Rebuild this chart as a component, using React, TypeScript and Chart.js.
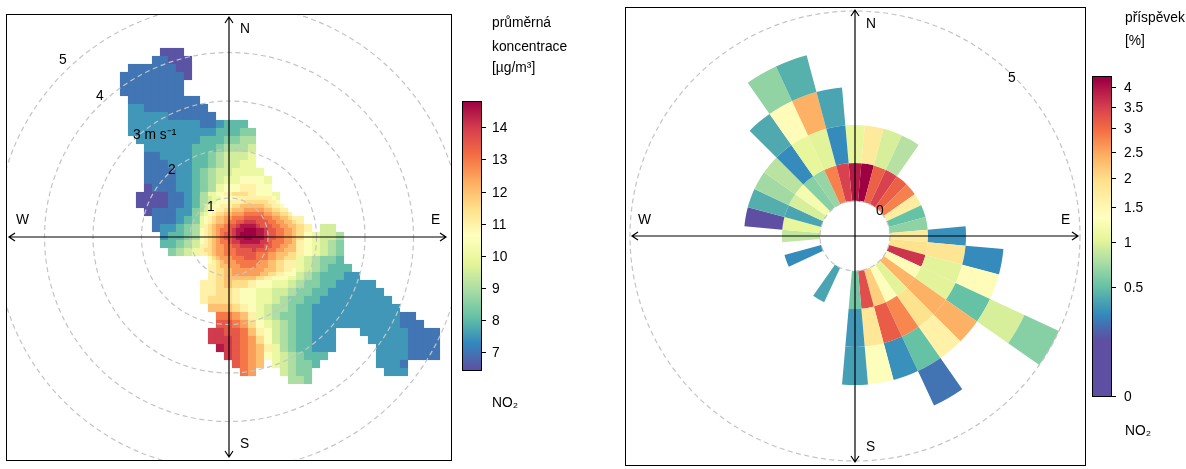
import React, { useEffect, useRef } from "react";
import { Chart, registerables } from "chart.js";

Chart.register(...registerables);

const FONT = '13.8px "Liberation Sans", Arial, sans-serif';

// ---- left panel: mean concentration by wind speed and direction ----
// Level letters stand for mean NO2 in ug/m3, half a unit apart, a = 6.5 ... r = 15
const levelLetters = "abcdefghijklmnopqr";
// [row, first column, levels]
const surfaceRuns: [number, number, string][] = [
  [0, 5, "aaa"],
  [1, 4, "bbaaa"],
  [2, 1, "bbbbbbaa"],
  [3, 0, "bbbbbbbba"],
  [4, 0, "bbbbbbbb"],
  [5, 0, "bbbbbbbb"],
  [6, 1, "bbbbbbbbb"],
  [7, 1, "ccbbbbbbbb"],
  [8, 1, "cccccbbbbbb"],
  [9, 1, "cccccccccbbcddd"],
  [10, 1, "cccccccccccdddee"],
  [11, 2, "ccccccccdddeeff"],
  [12, 3, "ccccccdddefffg"],
  [13, 3, "bbccccddefgggh"],
  [14, 3, "bbbcccddefgghh"],
  [15, 3, "bbbbccdefgghhhh"],
  [16, 3, "bbbbccdefghhiiih"],
  [17, 3, "abbbccdefhiijjii"],
  [18, 2, "aaaabbcdfhijkkjiih"],
  [19, 2, "aaaabbcdfijklmlkji"],
  [20, 3, "abbbccefhlmnnnnmlj"],
  [21, 4, "bbbcdegikmnoponmlkj"],
  [22, 4, "bccdefhjlmoqqponmlkj"],
  [22, 25, "gg"],
  [23, 5, "cddefhjlmoqqponmlkihggf"],
  [24, 5, "ddefgiklmnpponmlkjihgfe"],
  [25, 6, "efghjklmmnonnmlkjihgfe"],
  [26, 11, "ijkmmnmmljihgfeed"],
  [27, 11, "jkllmmlkjihhgfeddd"],
  [28, 11, "jkllllkjiihgfedddcc"],
  [29, 10, "jjklkkjiihhgfeeddccccc"],
  [30, 10, "jjkkjiihhggfeeddccccccc"],
  [31, 10, "jkkkjiihhgfeeddccccccccc"],
  [32, 11, "lllkjihgffeddccccccccccc"],
  [33, 12, "nnmljhgfeeddcccccccccccbb"],
  [34, 12, "oonmkihgfeddcccccccccccbbb"],
  [35, 11, "ppoonljigfeddccc"],
  [35, 30, "ccccccbbbb"],
  [36, 11, "ppponmkigfeddccc"],
  [36, 31, "cccccbbbb"],
  [37, 12, "qponmljhfeddccc"],
  [37, 32, "ccccbbbb"],
  [38, 13, "ponmlihgfeddd"],
  [38, 32, "ccccbbbb"],
  [39, 14, "onml"],
  [39, 19, "hgfeed"],
  [39, 32, "cccb"],
  [40, 15, "nm"],
  [40, 20, "gfee"],
  [40, 33, "ccc"],
  [41, 21, "ffe"],
];

// Finer reading of the hot spot near calm winds: [row, first column, levels]
const hotSpotRuns: [number, number, string][] = [
  [0, 0, "ffghhiiiijjjjjjjjji"],
  [1, 0, "ffghiiijjjjkkkkkkjji"],
  [2, 0, "fghiijjjkkllllllkkjji"],
  [3, 0, "fghijjkklllmmmmmllkkjj"],
  [4, 0, "ghijkkllmmmnnnnnmmllkkj"],
  [5, 0, "hijkllmmnnnooooonnmmllkj"],
  [6, 0, "hijkllmnnoopppooonnmmllk"],
  [7, 0, "hjklmmnoopqqqqpooonnmmll"],
  [8, 0, "ijklmnnopqqrrrqqpoonnmml"],
  [9, 0, "ijklmnoopqrrrrqqpoonnmml"],
  [10, 0, "ijklmnoopqqrrqqqpoonnmml"],
  [11, 0, "ijklmnnoppqqqqqpponnnmml"],
  [12, 0, "jjklmmnnooppppppoonnmmll"],
  [13, 0, "jkklmmnnnoooopooonnmmlll"],
  [14, 2, "klmmnnnooooonnnmmlllkk"],
  [15, 3, "klmmmnnnooonnnmmllkkk"],
  [16, 3, "jklmmmnnnnnnmmllkkjjj"],
  [17, 3, "jkllmmmnnnnmmmllkkjjj"],
  [18, 3, "jkkllmmmmmmmmlllkkjji"],
  [19, 3, "jkkllmmmmmmmllkkjjiii"],
];

const concentrationTicks = [7, 8, 9, 10, 11, 12, 13, 14];
const contributionTicks = [0, 0.5, 1, 1.5, 2, 2.5, 3, 3.5, 4];
const speedRings = [1, 2, 3, 4, 5];

// ---- right panel: percentage contribution, one list per wind-speed ring, one entry per 10 degrees from north ----
const n = null;
const ring1 = [3.9, 4.2, 3.1, 3.45, 3.1, 2.8, 1.7, 0.5, 0.65, 1.75, 1.9, 3.6, 1.4, 2.35, 1.0, 1.3, 2.1, 3.3, 0.55, n, n, 0.38, n, n, n, 0.28, n, 0.85, 1.05, 0.38, 0.95, 1.2, 0.62, 0.68, 2.8, 3.45];
const ring2 = [1.05, 1.75, 0.95, 0.8, n, n, n, n, n, 0.3, 1.85, 1.0, 1.0, 2.4, 1.9, 2.75, 3.15, 1.8, 0.33, n, n, n, n, n, n, n, n, n, 0.1, 0.42, 0.72, 0.82, 0.28, 1.05, 1.0, 0.28];
const ring3 = [n, n, n, n, n, n, n, n, n, n, 0.28, 1.4, 0.5, 2.4, 1.6, 0.5, 0.3, 1.3, 0.36, n, n, n, n, n, n, n, n, n, n, n, n, n, 0.4, 1.4, 2.4, 0.38];
const ring4 = [n, n, n, n, n, n, n, n, n, n, n, n, 0.95, n, n, 0.22, n, n, n, n, n, n, n, n, n, n, n, n, n, n, n, n, n, 0.66, 0.43, n];
const ring5 = [n, n, n, n, n, n, n, n, n, n, n, n, 0.62, n, n, n, n, n, n, n, n, n, n, n, n, n, n, n, n, n, n, n, n, n, n, n];
const ringsOutermostFirst = [ring5, ring4, ring3, ring2, ring1];
const sectorDegrees = 10;

const spectral = ["#5E4FA2", "#3288BD", "#66C2A5", "#ABDDA4", "#E6F598", "#FFFFBF", "#FEE08B", "#FDAE61", "#F46D43", "#D53E4F", "#9E0142"];
const concentrationStops = [6.44, 7.28, 8.11, 8.95, 9.78, 10.62, 11.46, 12.29, 13.13, 13.96, 14.8];
const contributionStops = [0.13, 0.27, 0.5, 0.75, 1.02, 1.33, 1.95, 2.43, 2.96, 3.5, 4.18];

function hex(c: string) {
  return [1, 3, 5].map((i) => parseInt(c.slice(i, i + 2), 16));
}
function colourAt(v: number, stops: number[]) {
  if (v <= stops[0]) return spectral[0];
  for (let i = 1; i < stops.length; i++) {
    if (v <= stops[i]) {
      const f = (v - stops[i - 1]) / (stops[i] - stops[i - 1]);
      const a = hex(spectral[i - 1]);
      const b = hex(spectral[i]);
      return `rgb(${a.map((x, k) => Math.round(x + (b[k] - x) * f)).join(",")})`;
    }
  }
  return spectral[spectral.length - 1];
}

function text(ctx: CanvasRenderingContext2D, s: string, x: number, y: number, align: CanvasTextAlign = "left") {
  ctx.textAlign = align;
  ctx.textBaseline = "middle";
  ctx.fillStyle = "#000";
  ctx.font = FONT;
  ctx.fillText(s, x, y);
}

function compass(ctx: CanvasRenderingContext2D, cx: number, cy: number, l: number, r: number, t: number, b: number) {
  ctx.strokeStyle = "#000";
  ctx.lineWidth = 1.2;
  ctx.setLineDash([]);
  const h = 4;
  ctx.beginPath();
  ctx.moveTo(l, cy); ctx.lineTo(r, cy);
  ctx.moveTo(cx, t); ctx.lineTo(cx, b);
  ctx.moveTo(l + h + 2, cy - h); ctx.lineTo(l, cy); ctx.lineTo(l + h + 2, cy + h);
  ctx.moveTo(r - h - 2, cy - h); ctx.lineTo(r, cy); ctx.lineTo(r - h - 2, cy + h);
  ctx.moveTo(cx - h, t + h + 2); ctx.lineTo(cx, t); ctx.lineTo(cx + h, t + h + 2);
  ctx.moveTo(cx - h, b - h - 2); ctx.lineTo(cx, b); ctx.lineTo(cx + h, b - h - 2);
  ctx.stroke();
}

function frame(ctx: CanvasRenderingContext2D, x: number, y: number, w: number, h: number) {
  ctx.strokeStyle = "#000";
  ctx.lineWidth = 1;
  ctx.setLineDash([]);
  ctx.strokeRect(x + 0.5, y + 0.5, w, h);
}

function dashed(ctx: CanvasRenderingContext2D, cx: number, cy: number, r: number) {
  ctx.strokeStyle = "#c4c4c4";
  ctx.lineWidth = 1.2;
  ctx.setLineDash([5, 3.5]);
  ctx.beginPath();
  ctx.arc(cx, cy, r, 0, Math.PI * 2);
  ctx.stroke();
  ctx.setLineDash([]);
}

function colourBar(
  ctx: CanvasRenderingContext2D, x: number, top: number, bottom: number,
  valueAt: (y: number) => number, yFor: (v: number) => number, ticks: number[], stops: number[], labelX: number,
) {
  const w = 19;
  for (let y = top; y < bottom; y++) {
    ctx.fillStyle = colourAt(valueAt(y + 0.5), stops);
    ctx.fillRect(x, y, w, 1);
  }
  frame(ctx, x, top, w, bottom - top);
  ctx.beginPath();
  ticks.forEach((t) => {
    const y = Math.round(yFor(t)) + 0.5;
    ctx.moveTo(x + w, y);
    ctx.lineTo(x + w + 5, y);
    text(ctx, String(t), labelX, y + 0.5);
  });
  ctx.strokeStyle = "#000";
  ctx.lineWidth = 1;
  ctx.stroke();
}

const PX_PER_SPEED = 48.5;
const LEFT_CX = 229;
const LEFT_CY = 237;
const RING_SHIFT = 0.196;

function toPoints(runs: [number, number, string][], step: number, x0: number, y0: number) {
  const out: { x: number; y: number; v: number }[] = [];
  runs.forEach(([row, col, s]) => {
    s.split("").forEach((ch, i) => {
      out.push({
        x: (x0 + (col + i) * step - LEFT_CX) / PX_PER_SPEED,
        y: -(y0 + row * step - LEFT_CY) / PX_PER_SPEED,
        v: 6.5 + levelLetters.indexOf(ch) * 0.5,
      });
    });
  });
  return out;
}
const surfacePoints = toPoints(surfaceRuns, 8, 124, 52);
const hotSpotPoints = toPoints(hotSpotRuns, 4, 202, 198);

export default function App() {
  const leftRef = useRef<HTMLCanvasElement>(null);
  const rightRef = useRef<HTMLCanvasElement>(null);

  useEffect(() => {
    const left = new Chart(leftRef.current!, {
      type: "scatter",
      data: {
        datasets: [
          {
            label: "NO2 near calm",
            data: hotSpotPoints as any,
            pointStyle: "rect",
            pointRadius: 2.95,
            pointBorderWidth: 0,
            order: 0,
            pointBackgroundColor: hotSpotPoints.map((p) => colourAt(p.v, concentrationStops)),
          },
          {
            label: "NO2",
            data: surfacePoints as any,
            pointStyle: "rect",
            pointRadius: 5.75,
            pointBorderWidth: 0,
            order: 1,
            pointBackgroundColor: surfacePoints.map((p) => colourAt(p.v, concentrationStops)),
          },
        ],
      },
      options: {
        animation: false,
        responsive: false,
        events: [],
        layout: { padding: { left: 6, top: 14, right: 149, bottom: 9 } },
        plugins: { legend: { display: false }, tooltip: { enabled: false } },
        scales: {
          x: { type: "linear", display: false, min: (6 - LEFT_CX) / PX_PER_SPEED, max: (451 - LEFT_CX) / PX_PER_SPEED },
          y: { type: "linear", display: false, min: (LEFT_CY - 460) / PX_PER_SPEED, max: (LEFT_CY - 14) / PX_PER_SPEED },
        },
      },
      plugins: [{
        id: "leftFurniture",
        afterDatasetsDraw(c: any) {
          const ctx = c.ctx as CanvasRenderingContext2D;
          const a = c.chartArea;
          const sx = c.scales.x;
          const sy = c.scales.y;
          const cx = sx.getPixelForValue(0);
          const cy = sy.getPixelForValue(0);
          ctx.save();
          ctx.beginPath();
          ctx.rect(a.left, a.top, a.width, a.height);
          ctx.clip();
          speedRings.forEach((k) => dashed(ctx, cx, cy, sx.getPixelForValue(k - RING_SHIFT) - cx));
          ctx.restore();
          compass(ctx, cx, cy, 9, 446, 17, 457);
          frame(ctx, a.left, a.top, a.width, a.height);
          text(ctx, "N", 240, 29);
          text(ctx, "S", 240, 444);
          text(ctx, "W", 16, 220);
          text(ctx, "E", 431, 220);
          text(ctx, "1", 207, 207);
          text(ctx, "2", 168, 170);
          text(ctx, "3 m s⁻¹", 133, 135);
          text(ctx, "4", 96, 96);
          text(ctx, "5", 59, 60);
          text(ctx, "průměrná", 492, 23);
          text(ctx, "koncentrace", 492, 47);
          text(ctx, "[µg/m³]", 492, 68);
          text(ctx, "NO₂", 492, 403);
          colourBar(ctx, 462, 101, 370, (y) => 7 + (352 - y) / 32.1, (v) => 352 - (v - 7) * 32.1, concentrationTicks, concentrationStops, 492);
        },
      }],
    } as any);

    const right = new Chart(rightRef.current!, {
      type: "doughnut",
      data: {
        labels: ring1.map((_, i) => String(i * sectorDegrees)),
        datasets: ringsOutermostFirst.map((ring, i) => ({
          label: `${4 - i}-${5 - i} m/s`,
          data: ring.map(() => sectorDegrees),
          backgroundColor: ring.map((v) => (v === null ? "rgba(0,0,0,0)" : colourAt(v, contributionStops))),
          borderWidth: 0,
        })),
      },
      options: {
        animation: false,
        responsive: false,
        events: [],
        rotation: -sectorDegrees / 2,
        cutout: `${(35 / 225) * 100}%`,
        layout: { padding: { left: 30, top: 11, right: 106, bottom: 8 } },
        plugins: { legend: { display: false }, tooltip: { enabled: false } },
      },
      plugins: [{
        id: "rightFurniture",
        afterDatasetsDraw(c: any) {
          const ctx = c.ctx as CanvasRenderingContext2D;
          const meta = c.getDatasetMeta(0).data[0];
          const cx = meta.x;
          const cy = meta.y;
          dashed(ctx, cx, cy, 35);
          dashed(ctx, cx, cy, 225);
          compass(ctx, cx, cy, 32, 478, 10, 462);
          frame(ctx, 25, 7, 460, 458);
          text(ctx, "N", 266, 24);
          text(ctx, "S", 266, 447);
          text(ctx, "W", 38, 220);
          text(ctx, "E", 461, 220);
          text(ctx, "0", 276, 211);
          text(ctx, "5", 408, 78);
          text(ctx, "příspěvek", 525, 18);
          text(ctx, "[%]", 525, 41);
          text(ctx, "NO₂", 525, 431);
          colourBar(ctx, 492, 76, 396, (y) => Math.pow((396 - y) / 154.5, 2), (v) => 396 - 154.5 * Math.sqrt(v), contributionTicks, contributionStops, 524);
        },
      }],
    } as any);

    return () => {
      left.destroy();
      right.destroy();
    };
  }, []);

  return (
    <div style={{ position: "absolute", left: 0, top: 0, width: 1186, height: 469, background: "#fff", overflow: "hidden" }}>
      <canvas ref={leftRef} width={600} height={469} style={{ position: "absolute", left: 0, top: 0, width: 600, height: 469 }} />
      <canvas ref={rightRef} width={586} height={469} style={{ position: "absolute", left: 600, top: 0, width: 586, height: 469 }} />
    </div>
  );
}
